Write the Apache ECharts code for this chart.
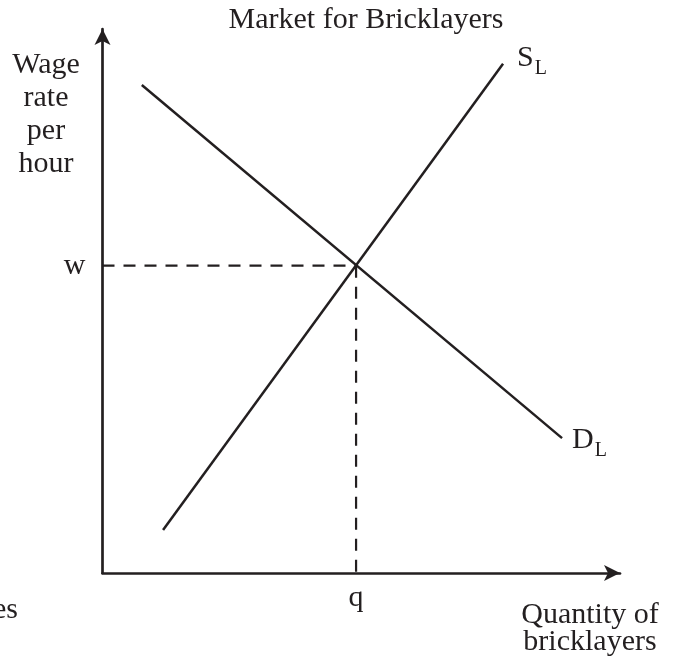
<!DOCTYPE html>
<html>
<head>
<meta charset="utf-8">
<script src="https://cdn.jsdelivr.net/npm/echarts@6/dist/echarts.min.js"></script>
<style>
  html, body { margin: 0; padding: 0; background: #fff; }
  #main { width: 680px; height: 661px; }
</style>
</head>
<body>
<div id="main"></div>
<script>
// labour market diagram, values in plot units (0-100 on each axis)
var demandPts = [[7.6, 89.7], [88.8, 24.8]];
var supplyPts = [[11.7, 7.9], [77.4, 93.6]];
var equil = [49, 56.5];
var wageTick = ['w'];
var qtyTick = ['q'];

var ink = '#231f20';
var serif = '"Liberation Serif", "Times New Roman", serif';

var richSub = {
  m: { fontSize: 30, lineHeight: 30, fontFamily: serif, color: ink, verticalAlign: 'top' },
  s: { fontSize: 20, lineHeight: 20, fontFamily: serif, color: ink, verticalAlign: 'top', padding: [16, 0, 0, 1] }
};

var myChart = echarts.init(document.getElementById('main'));

var option = {
  animation: false,
  grid: { left: 102.5, right: 60, top: 29, bottom: 88 },
  xAxis: {
    type: 'value',
    min: 0,
    max: 100,
    splitLine: { show: false },
    axisTick: { show: false },
    axisLine: {
      symbol: ['none', 'arrow'],
      symbolSize: [12, 16],
      lineStyle: { color: ink, width: 2.7 }
    },
    axisLabel: {
      customValues: [equil[0]],
      formatter: function () { return qtyTick[0]; },
      color: ink,
      fontSize: 30,
      fontFamily: serif,
      margin: 10
    }
  },
  yAxis: {
    type: 'value',
    min: 0,
    max: 100,
    splitLine: { show: false },
    axisTick: { show: false },
    axisLine: {
      symbol: ['none', 'arrow'],
      symbolSize: [12, 16],
      lineStyle: { color: ink, width: 2.7 }
    },
    axisLabel: {
      customValues: [equil[1]],
      formatter: function () { return wageTick[0]; },
      color: ink,
      fontSize: 30,
      fontFamily: serif,
      margin: 17
    }
  },
  graphic: [
    { type: 'text', style: { text: 'Market for Bricklayers', x: 366, y: 5, textAlign: 'center', font: '30px ' + serif, fill: ink } },
    { type: 'text', style: { text: 'Wage\nrate\nper\nhour', x: 46, y: 48, textAlign: 'center', lineHeight: 33.3, font: '30px ' + serif, fill: ink } },
    { type: 'text', style: { text: 'Quantity of\nbricklayers', x: 590, y: 601, textAlign: 'center', lineHeight: 27.5, font: '30px ' + serif, fill: ink } },
    { type: 'text', style: { text: 'es', x: 18, y: 595, textAlign: 'right', font: '30px ' + serif, fill: ink } }
  ],
  series: [
    {
      type: 'line',
      data: [[0, equil[1]], equil],
      symbol: 'none',
      silent: true,
      lineStyle: { color: ink, width: 2.2, type: [12, 9] }
    },
    {
      type: 'line',
      data: [equil, [equil[0], 0]],
      symbol: 'none',
      silent: true,
      lineStyle: { color: ink, width: 2.2, type: [12, 9] }
    },
    {
      name: 'D',
      type: 'line',
      data: demandPts,
      symbol: 'none',
      lineStyle: { color: ink, width: 2.5 },
      endLabel: {
        show: true,
        formatter: '{m|D}{s|L}',
        distance: 10,
        offset: [0, 2],
        rich: richSub
      }
    },
    {
      name: 'S',
      type: 'line',
      data: supplyPts,
      symbol: 'none',
      lineStyle: { color: ink, width: 2.5 },
      endLabel: {
        show: true,
        formatter: '{m|S}{s|L}',
        distance: 14,
        offset: [0, -6],
        rich: richSub
      }
    }
  ]
};

myChart.setOption(option);
window.addEventListener('resize', function () {
  myChart.resize();
});
</script>
</body>
</html>
